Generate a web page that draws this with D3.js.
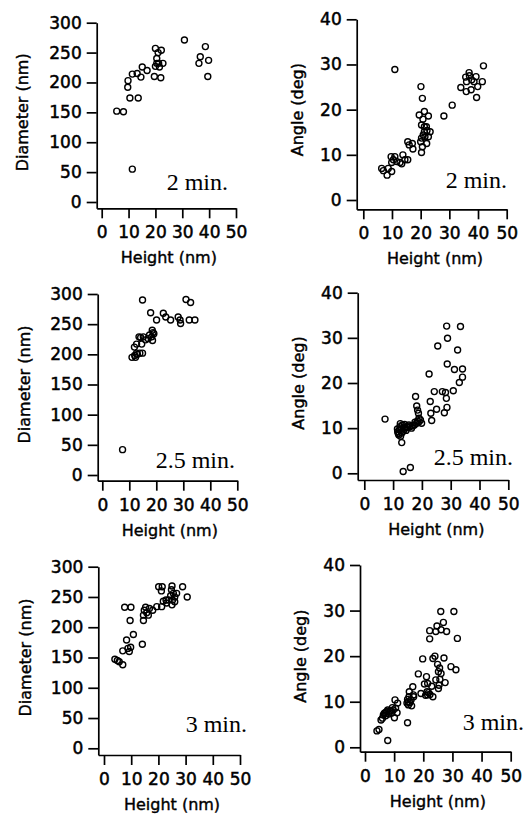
<!DOCTYPE html>
<html>
<head>
<meta charset="utf-8">
<script src="https://cdn.jsdelivr.net/npm/d3@7"></script>
<style>
	body { margin: 0; background: #fff; }
	svg { display: block; }
</style>
</head>
<body>
<svg id="chart" width="531" height="816"></svg>
<script>
// ---- values: [height (nm), value] ----
const heightTicks = [0, 10, 20, 30, 40, 50];
const diameterTicks = [0, 50, 100, 150, 200, 250, 300];
const angleTicks = [0, 10, 20, 30, 40];

const diameter2min = [
	[5.6, 152], [8.1, 151], [9.7, 192], [9.8, 203], [10.5, 174], [13.6, 174], [11.4, 214],
	[13.2, 215], [14.6, 209], [15.1, 226], [16.9, 220], [11.4, 55], [19.6, 210], [20, 257],
	[21, 250], [20.5, 240], [20.5, 232], [21.2, 232], [22.2, 254], [22.8, 232], [22, 208],
	[20, 227], [21.5, 226], [30.8, 271], [36.2, 232], [36.7, 243], [38.6, 260], [39.8, 237],
	[39.5, 210]
];
const angle2min = [
	[6.4, 7.0], [7.0, 6.5], [8.3, 5.5], [8.7, 7.0], [9.9, 6.3], [9.7, 9.6], [11, 9.6],
	[10.5, 8.9], [9.9, 8.3], [11.7, 8.5], [12.8, 8.3], [13.4, 8.0], [13.8, 10.0], [14.5, 8.9],
	[15.5, 8.9], [11, 28.9], [15.5, 12.9], [16, 12.2], [17.1, 12.5], [17.3, 11.3], [20, 12.9],
	[20.3, 10.5], [20.6, 11.8], [20.1, 25.1], [20.6, 22.5], [19.5, 18.8], [21.3, 19.6],
	[20.8, 17.9], [22.7, 18.6], [20.3, 16.6], [21.3, 16.2], [22, 16.2], [22.2, 15.4],
	[23.3, 15.1], [20.9, 14.4], [21.5, 14.0], [22.7, 14.0], [22.1, 12.5], [21.3, 15.1],
	[20.3, 13.7], [28.1, 18.6], [31, 21], [34, 24.9], [35.7, 27.2], [36.9, 28.2], [37, 27.5],
	[36, 26.2], [35.9, 24], [37.6, 24.4], [38.6, 26.2], [39.3, 27.3], [39.9, 25.1],
	[39.5, 22.7], [41.5, 26.2], [41.9, 29.7], [37.8, 26.6]
];
const diameter25min = [
	[7.5, 42], [11, 195], [11.9, 212], [12.3, 195], [12.7, 202], [12.7, 217], [13.6, 229],
	[13.9, 202], [14.9, 202], [14.6, 217], [14.9, 290], [15.2, 229], [16, 224], [17, 226],
	[17.9, 269], [18.3, 229], [18.5, 240], [18.6, 223], [19.1, 234], [20.1, 257], [22.6, 268],
	[23.5, 262], [25.3, 257], [28.1, 262], [28.8, 257], [29, 251], [31, 291], [32.7, 286],
	[32.2, 257], [34.3, 257], [12, 198], [13, 200], [14.2, 228], [17.5, 232], [18.8, 236]
];
const angle25min = [
	[7.2, 12.0], [11.6, 9.2], [12.4, 10.3], [13, 8.9], [12, 8.5], [13.2, 10.7], [13.9, 9.7],
	[14.7, 10.3], [15.5, 10.7], [16.4, 10.0], [17.4, 10.7], [18.2, 11.1], [19, 11.4],
	[19.9, 11.1], [13, 6.8], [13.5, 0.4], [16, 1.3], [17.8, 17.0], [18.2, 14.9], [18.5, 14.0],
	[18.8, 13.3], [19, 12.2], [22.5, 22.0], [22.9, 15.9], [23.1, 13.3], [23.4, 11.7],
	[24.3, 18.1], [25.1, 14.2], [25.5, 28.2], [27.1, 18.1], [27.8, 13.4], [28.2, 17.9],
	[28.6, 32.6], [28.9, 29.9], [28.8, 24.2], [28.5, 16.6], [28.7, 14.6], [30.9, 18.3],
	[31.3, 23.0], [32.4, 27.3], [33, 20.1], [33.4, 32.5], [34.1, 23.1], [34.1, 21.3],
	[11.5, 9.8], [12.2, 9.6], [12.8, 9.9], [13.5, 9.3], [14.2, 10.1], [14.5, 9.5], [15.0, 10.2],
	[15.8, 10.3], [16.8, 10.5], [17.6, 11.3], [18.5, 11.6], [19.5, 11.8], [12.5, 11.0],
	[14.0, 10.8], [11.8, 8.8], [12.6, 8.2]
];
const diameter3min = [
	[4, 147], [4.9, 145], [5.6, 143], [6.9, 138], [6.9, 161], [7.6, 233], [8.3, 179],
	[8.8, 165], [9.3, 160], [9.8, 167], [9.9, 233], [9.6, 211], [10.8, 188], [14.1, 172],
	[14.5, 211], [14.5, 220], [14.8, 228], [15.3, 233], [15.7, 224], [16.3, 220], [16.7, 231],
	[17.9, 228], [19.4, 234], [20.1, 267], [21.4, 267], [21.1, 260], [21.2, 234], [21.8, 243],
	[22.8, 245], [23, 240], [23.8, 245], [24.5, 252], [24.8, 262], [25, 268], [25, 237],
	[25.2, 245], [25.5, 256], [26, 250], [26.7, 256], [28.9, 267], [30.6, 250], [26, 242]
];
const angle3min = [
	[4.1, 3.6], [4.8, 3.9], [5.5, 6.0], [6, 6.4], [6.3, 7.1], [6.9, 7.6], [7.1, 6.9], [7.4, 7.8],
	[7.8, 8.2], [8.2, 7.3], [7.8, 1.5], [8.9, 8.0], [9.4, 8.7], [9.7, 8.2], [10.3, 10.4],
	[10.5, 8.6], [10.1, 6.5], [11, 7.6], [11.2, 9.7], [9.2, 7.5], [14.6, 5.4], [14.4, 9.7],
	[14.6, 10.5], [14.9, 9.3], [15.1, 11.1], [15.2, 12.2], [15.8, 10.4], [16, 9.1],
	[16.4, 13.3], [16.6, 11.5], [16.7, 11.1], [18.3, 16.1], [19.2, 11.8], [19.8, 19.4],
	[20.4, 13.9], [21.1, 15.5], [21.3, 12.2], [21.5, 14.0], [21.5, 11.5], [22.2, 25.6],
	[22.2, 23.8], [22.3, 11.6], [23.3, 11.1], [23.3, 19.5], [24, 20], [24.3, 14.8],
	[24.3, 25.4], [24.7, 26.6], [24.9, 18.2], [25.2, 12.9], [25.2, 16.6], [25.4, 13.6],
	[25.7, 14.9], [26, 29.8], [26.1, 16.2], [26.1, 25.8], [26.9, 27.4], [27.1, 19.6],
	[27.5, 14.2], [28, 25.4], [29.5, 17.7], [30.5, 29.8], [31.2, 17.0], [31.7, 23.9],
	[25.6, 17.4], [22.9, 13.4], [14.8, 10.0], [15.4, 9.8], [21.8, 12.0], [20.8, 11.4],
	[6.6, 7.4], [8.5, 7.9]
];

// ---- panel layout (pixels) ----
// x0/x50: where 0 and 50 nm sit; y0/yTop: where 0 and the top tick sit;
// axisX: left axis line, axisY: bottom axis line
const panels = [
	{ data: diameter2min, ticks: diameterTicks, yLabel: 'Diameter (nm)', time: '2 min.',
		x0: 101.7, x50: 236, y0: 202, yTop: 22.7, axisX: 96.7, axisY: 208.3, labX: 22, tx: 228, ty: 190 },
	{ data: angle2min, ticks: angleTicks, yLabel: 'Angle (deg)', time: '2 min.',
		x0: 363.3, x50: 506.7, y0: 200, yTop: 19.3, axisX: 356.7, axisY: 209.3, labX: 297, tx: 507, ty: 188 },
	{ data: diameter25min, ticks: diameterTicks, yLabel: 'Diameter (nm)', time: '2.5 min.',
		x0: 102.3, x50: 237.3, y0: 475, yTop: 294, axisX: 97.7, axisY: 480.7, labX: 24, tx: 235, ty: 468 },
	{ data: angle25min, ticks: angleTicks, yLabel: 'Angle (deg)', time: '2.5 min.',
		x0: 364.3, x50: 508.3, y0: 473.3, yTop: 292.7, axisX: 357.7, axisY: 480, labX: 298, tx: 513, ty: 465 },
	{ data: diameter3min, ticks: diameterTicks, yLabel: 'Diameter (nm)', time: '3 min.',
		x0: 104, x50: 240, y0: 748.3, yTop: 566.7, axisX: 98.3, axisY: 755, labX: 25, tx: 247, ty: 732 },
	{ data: angle3min, ticks: angleTicks, yLabel: 'Angle (deg)', time: '3 min.',
		x0: 365, x50: 510.7, y0: 747.3, yTop: 565, axisX: 360, axisY: 751.7, labX: 300, tx: 524, ty: 730 }
];

const sans = '"DejaVu Sans", sans-serif';
const svg = d3.select('#chart');

// style an axis group the same way for both axes
const styleAxis = (sel) => {
	sel.selectAll('.domain, .tick line')
		.attr('stroke', '#000')
		.attr('stroke-width', 1.7);
	sel.selectAll('text')
		.attr('fill', '#000')
		.attr('stroke', '#000')
		.attr('stroke-width', 0.5)
		.style('font-family', sans)
		.style('font-size', '17px');
};

panels.forEach((p) => {
	const yMax = p.ticks[p.ticks.length - 1];
	const x = d3.scaleLinear().domain([0, 50]).range([p.x0, p.x50]);
	const y = d3.scaleLinear().domain([0, yMax]).range([p.y0, p.yTop]);

	// axis scales stretched so the two axis lines meet at the corner
	const xAxisScale = x.copy().domain([x.invert(p.axisX), 50]).range([p.axisX, p.x50]);
	const yAxisScale = y.copy().domain([y.invert(p.axisY), yMax]).range([p.axisY, p.yTop]);

	const g = svg.append('g');

	g.append('g')
		.attr('transform', `translate(0,${p.axisY})`)
		.call(d3.axisBottom(xAxisScale).tickValues(heightTicks).tickSize(10).tickSizeOuter(0).tickPadding(8))
		.call(styleAxis);

	g.append('g')
		.attr('transform', `translate(${p.axisX},0)`)
		.call(d3.axisLeft(yAxisScale).tickValues(p.ticks).tickSize(10).tickSizeOuter(0).tickPadding(5))
		.call(styleAxis);

	// axis titles
	g.append('text')
		.attr('x', (p.x0 + p.x50) / 2)
		.attr('y', p.axisY + 55)
		.attr('text-anchor', 'middle')
		.attr('stroke', '#000')
		.attr('stroke-width', 0.4)
		.style('font-family', sans)
		.style('font-size', '16px')
		.text('Height (nm)');

	g.append('text')
		.attr('transform', `translate(${p.labX},${(p.y0 + p.yTop) / 2}) rotate(-90)`)
		.attr('text-anchor', 'middle')
		.attr('dy', '0.35em')
		.attr('stroke', '#000')
		.attr('stroke-width', 0.4)
		.style('font-family', sans)
		.style('font-size', '16px')
		.text(p.yLabel);

	// growth time label
	g.append('text')
		.attr('x', p.tx)
		.attr('y', p.ty)
		.attr('text-anchor', 'end')
		.style('font-family', '"Liberation Serif", "Times New Roman", serif')
		.style('font-size', '24px')
		.text(p.time);

	// open circle markers
	g.selectAll('circle')
		.data(p.data)
		.join('circle')
		.attr('cx', (d) => x(d[0]))
		.attr('cy', (d) => y(d[1]))
		.attr('r', 3)
		.attr('fill', 'none')
		.attr('stroke', '#000')
		.attr('stroke-width', 1.4);
});
</script>
</body>
</html>
